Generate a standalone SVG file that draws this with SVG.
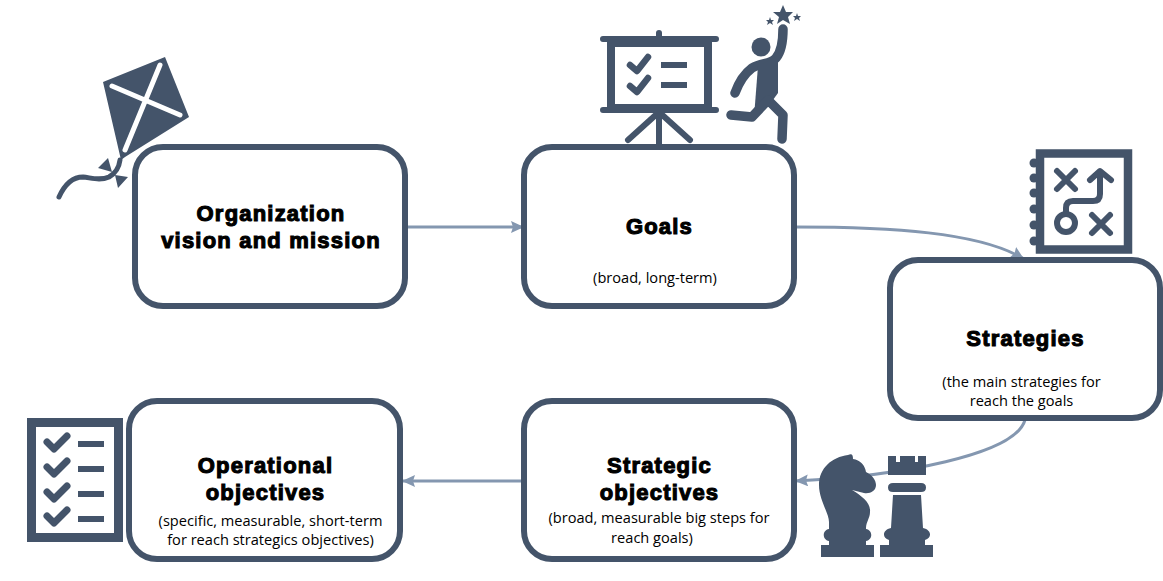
<svg xmlns="http://www.w3.org/2000/svg" width="1163" height="581" viewBox="0 0 1163 581">
<defs>
<marker id="ah" markerUnits="userSpaceOnUse" markerWidth="14" markerHeight="12" refX="13" refY="6" orient="auto"><path d="M0 0L13 6L0 12L2 6Z" fill="#8497b0"/></marker>
</defs>
<style>
.box{fill:#fff;stroke:#44546a;stroke-width:6}
.t{font-family:"Liberation Sans",Arial,sans-serif;font-weight:700;font-size:22px;fill:#000;stroke:#000;stroke-width:1.100;text-anchor:middle;letter-spacing:1.200px}
.s{font-family:"Open Sans","Liberation Sans",sans-serif;font-size:14.600px;fill:#000;text-anchor:middle}
.c{fill:none;stroke:#8497b0;stroke-width:3;marker-end:url(#ah)}
.i{fill:#44546a}
.l{fill:none;stroke:#44546a;stroke-linecap:round;stroke-linejoin:round}
.w{fill:none;stroke:#fff;stroke-linecap:round}
</style>
<g id="connectors">
<path class="c" d="M406 227H524"/>
<path class="c" d="M795 227C890 227 980 232 1024 259"/>
<path class="c" d="M1025 420C1015 455 900 476 795 481"/>
<path class="c" d="M524 481H402"/>
</g>
<g id="kite">
<path class="i" d="M103 82L165 57L189 117L125 157L121 160Z"/>
<path class="w" stroke-width="5" d="M112 86L180 115M160 65L125 150"/>
<path class="l" stroke-width="5" d="M120 160C119 168 116 173 109 177C100 181 92 178 83 177C72 177 64 186 59 197"/>
<path class="i" d="M108 158L98 168L112 172ZM115 175L118 188L128 177Z"/>
</g>
<g id="node-vision">
<rect class="box" x="135" y="147" width="270" height="159" rx="28"/>
<text class="t" x="271" y="221">Organization</text>
<text class="t" x="271" y="248">vision and mission</text>
</g>
<g id="presentation">
<path class="l" stroke-width="6" d="M603 39H716M659 33V39M603 110H716M659 112V145M659 112L628 140M659 112L690 140"/>
<rect x="611" y="43" width="97" height="65" fill="none" stroke="#44546a" stroke-width="8"/>
<path class="l" stroke-width="6.500" stroke-linecap="butt" stroke-linejoin="miter" d="M630 65L637 71L648 57M630 86L637 92L648 78"/>
<path class="i" d="M661 62H687V68H661ZM661 82H687V88H661Z"/>
</g>
<g id="person">
<circle class="i" cx="761" cy="47" r="9.500"/>
<path class="l" stroke-width="9.500" d="M783 29C783 42 781 52 776 58C770 65 762 62 752 68C744 74 739 82 735 93"/>
<path class="i" d="M758 66L778 56V93L770 104L754 117Z"/>
<path class="l" stroke-width="9.500" d="M731 115L752 117L768 100L783 115L782 139"/>
<path class="i" d="M783 5L786 12L793 12L788 17L790 24L783 20L777 24L779 17L773 12L780 12ZM770 17L771 20L774 20L772 22L773 25L770 23L767 25L768 22L766 20L769 20ZM797 13L798 16L801 16L799 18L800 21L797 19L794 21L795 18L793 16L796 16Z"/>
</g>
<g id="node-goals">
<rect class="box" x="524" y="147" width="270" height="159" rx="28"/>
<text class="t" x="659.500" y="234">Goals</text>
<text class="s" x="655" y="283">(broad, long-term)</text>
</g>
<g id="playbook">
<rect x="1040" y="153.500" width="88" height="96" fill="none" stroke="#44546a" stroke-width="8.500"/>
<circle class="i" cx="1034" cy="163" r="4.500"/><circle class="i" cx="1034" cy="178" r="4.500"/><circle class="i" cx="1034" cy="193" r="4.500"/><circle class="i" cx="1034" cy="209" r="4.500"/><circle class="i" cx="1034" cy="225" r="4.500"/><circle class="i" cx="1034" cy="241" r="4.500"/>
<path class="l" stroke-width="6" d="M1057 171L1075 189M1075 171L1057 189M1092 215L1110 233M1110 215L1092 233M1066 212V208Q1066 201 1073 201H1093Q1100 201 1100 194V172M1090 180L1100 171L1111 180"/>
<circle cx="1066" cy="223" r="9" fill="none" stroke="#44546a" stroke-width="6"/>
</g>
<g id="node-strategies">
<rect class="box" x="890" y="260" width="270" height="158" rx="28"/>
<text class="t" x="1025.500" y="346">Strategies</text>
<text class="s" x="1021.500" y="387">(the main strategies for</text>
<text class="s" x="1021.500" y="406">reach the goals</text>
</g>
<g id="chess">
<path class="i" d="M848 455C852 453 853 455 853 459C860 460 865 465 866 472C872 475 876 480 876 485C876 491 870 494 864 493L852 490C862 496 871 503 870 512C870 518 866 522 866 528V529C873 530 873 540 866 541V545H874V557H821V545H829V541C822 540 822 530 829 529V522C829 513 819 500 819 485C819 468 832 457 848 455Z"/>
<path class="i" d="M888 456H896V462H900V456H915V462H918V456H926V475H888ZM893 483H921Q926 483 926 487.500Q926 492 921 492H893Q888 492 888 487.500Q888 483 893 483ZM893 495H921L923 528C932 530 932 538 925 540V545H933V557H880V545H889V540C882 538 882 530 891 528Z"/>
</g>
<g id="node-strategic">
<rect class="box" x="524" y="401" width="270" height="158" rx="28"/>
<text class="t" x="659.500" y="473">Strategic</text>
<text class="t" x="659.500" y="500">objectives</text>
<text class="s" x="659" y="523">(broad, measurable big steps for</text>
<text class="s" x="652" y="543">reach goals)</text>
</g>
<g id="node-operational">
<rect class="box" x="129" y="401" width="271" height="158" rx="28"/>
<text class="t" x="265.500" y="473">Operational</text>
<text class="t" x="265.500" y="500">objectives</text>
<text class="s" x="270.500" y="526">(specific, measurable, short-term</text>
<text class="s" x="270.500" y="545">for reach strategics objectives)</text>
</g>
<g id="checklist">
<rect x="31.500" y="422.500" width="87" height="115" fill="none" stroke="#44546a" stroke-width="9"/>
<path class="l" stroke-width="7" stroke-linecap="butt" stroke-linejoin="miter" d="M47 442L54 449L67 436M47 467L54 474L67 461M47 492L54 499L67 486M47 516L54 523L67 510"/>
<path class="i" d="M78 441H104V447H78ZM78 466H104V472H78ZM78 491H104V497H78ZM78 516H104V522H78Z"/>
</g>
</svg>
